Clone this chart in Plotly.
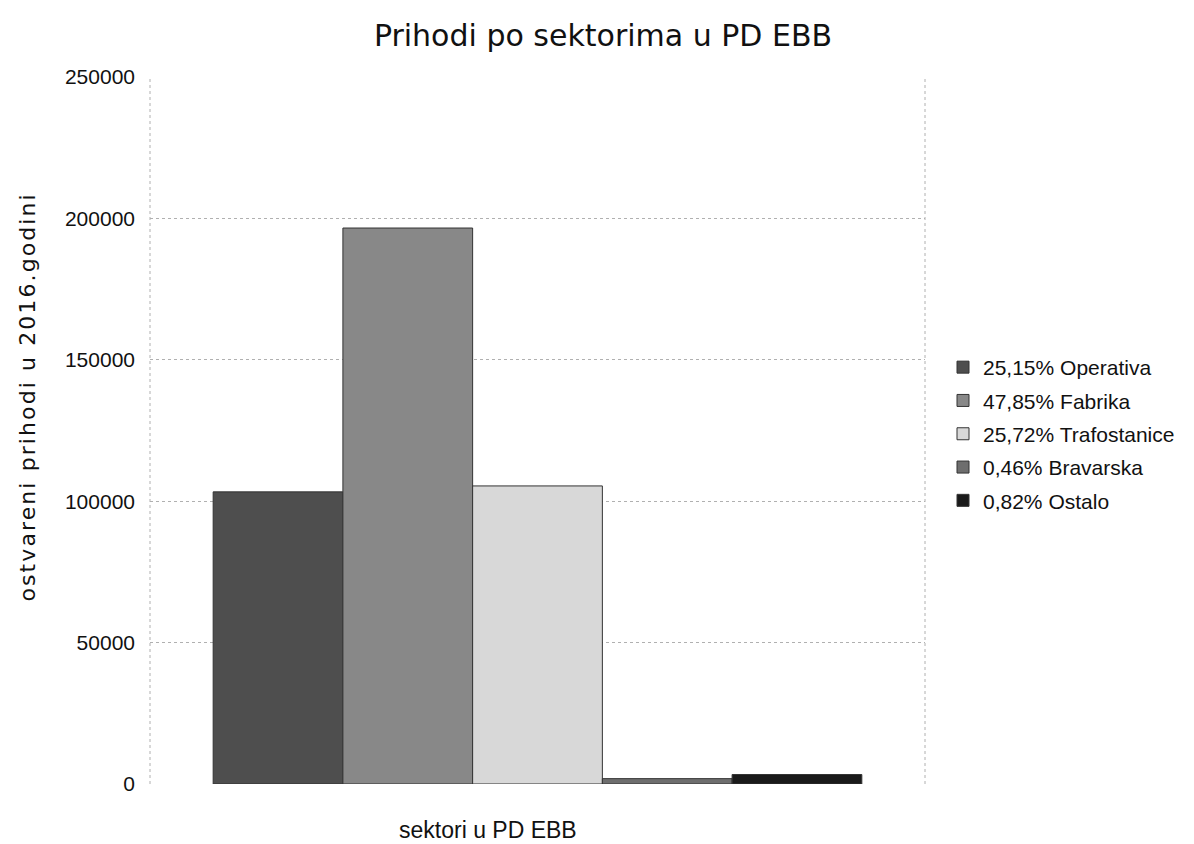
import plotly.graph_objects as go

series_names = ["25,15% Operativa", "47,85% Fabrika", "25,72% Trafostanice", "0,46% Bravarska", "0,82% Ostalo"]
series_values = [103300, 196600, 105400, 1900, 3350]
series_colors = ["#4e4e4e", "#888888", "#d8d8d8", "#6e6e6e", "#1a1a1a"]
category = ["sektori u PD EBB"]
title_text = "Prihodi po sektorima u PD EBB"
y_title = "ostvareni prihodi u 2016.godini"
x_title = "sektori u PD EBB"

fig = go.Figure()
for name, val, col in zip(series_names, series_values, series_colors):
    fig.add_trace(go.Bar(
        x=category, y=[val], name=name, legendgroup=name,
        marker=dict(color=col, line=dict(color="#333333", width=1)),
    ))

W, H = 1194, 844
L, R, T, B = 150, 269, 77, 60
PW, PH = W - L - R, H - T - B

def px_x(x):
    return (x - L) / PW

def px_y(y):
    return (H - B - y) / PH

fig.update_layout(
    width=W, height=H,
    barmode="group", bargap=0.163, bargroupgap=0,
    paper_bgcolor="white", plot_bgcolor="white",
    font=dict(family="Liberation Sans, Arial, sans-serif", size=21, color="#111111"),
    title=dict(text=title_text, x=603 / W, xanchor="center",
               y=1 - 35 / H, yanchor="middle",
               font=dict(family="DejaVu Sans, sans-serif", size=30, color="#111111")),
    margin=dict(l=L, r=R, t=T, b=B),
    legend=dict(x=px_x(943), y=px_y(434), xanchor="left", yanchor="middle",
                font=dict(size=21), traceorder="grouped", tracegroupgap=3,
                bgcolor="rgba(0,0,0,0)"),
    showlegend=True,
)
fig.update_xaxes(showticklabels=False, showgrid=False, showline=False, zeroline=False)
fig.update_yaxes(range=[0, 250000], dtick=50000, showgrid=True, gridcolor="#b0b0b0", griddash="dot",
                 gridwidth=1, zeroline=False, showline=False, ticks="", ticklabelstandoff=14,
                 tickformat="d")
for xv in (0, 1):
    fig.add_shape(type="line", xref="paper", yref="paper", x0=xv, x1=xv, y0=0, y1=1,
                  line=dict(color="#b0b0b0", width=1, dash="dot"), layer="below")

fig.add_annotation(text=y_title, textangle=-90, xref="paper", yref="paper",
                   x=px_x(27), y=px_y(397), xanchor="center", yanchor="middle",
                   showarrow=False, font=dict(family="DejaVu Sans, sans-serif", size=22, color="#111111"))
fig.add_annotation(text=x_title, xref="paper", yref="paper",
                   x=px_x(488), y=px_y(830), xanchor="center", yanchor="middle",
                   showarrow=False, font=dict(size=23, color="#111111"))

post = """
document.body.style.margin='0';
document.documentElement.style.overflow='hidden';
document.body.style.overflow='hidden';
document.querySelectorAll('text.annotation-text').forEach(function(t){
  if (t.textContent.indexOf('ostvareni') === 0) { t.style.letterSpacing = '2.1px'; }
});
"""
fig.write_html("out.html", post_script=post, config={"displayModeBar": False})
